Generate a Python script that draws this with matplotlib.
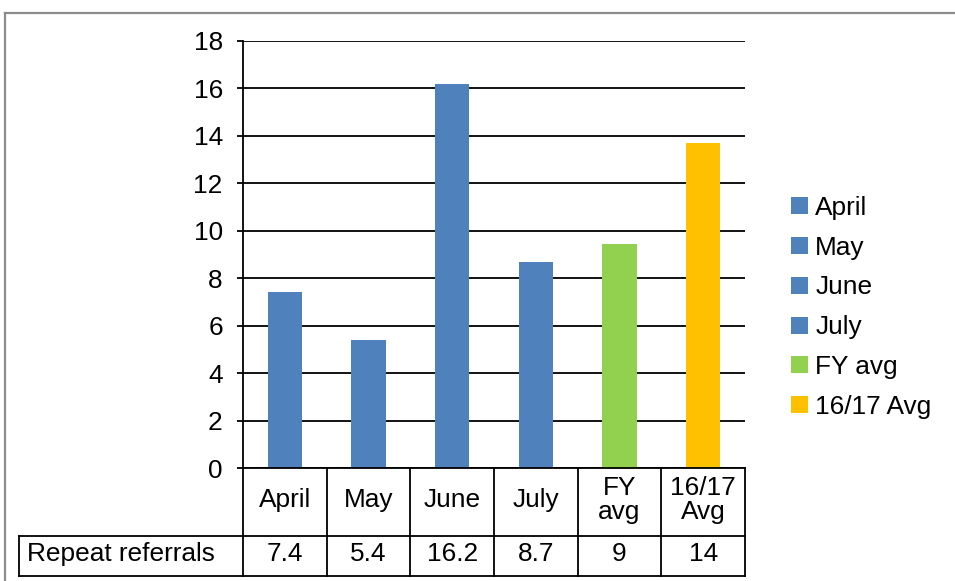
import matplotlib
matplotlib.use("Agg")
import matplotlib.pyplot as plt
from matplotlib.lines import Line2D
from matplotlib.transforms import blended_transform_factory

plt.rcParams['font.family'] = ['Liberation Sans', 'DejaVu Sans']

categories = ["April", "May", "June", "July", "FY avg", "16/17 Avg"]
header_labels = ["April", "May", "June", "July", "FY\navg", "16/17\nAvg"]
values = [7.4, 5.4, 16.2, 8.7, 9.45, 13.7]
table_values = ["7.4", "5.4", "16.2", "8.7", "9", "14"]
row_label = "Repeat referrals"
colors = ["#4F81BD", "#4F81BD", "#4F81BD", "#4F81BD", "#92D050", "#FFC000"]
yticks = [0, 2, 4, 6, 8, 10, 12, 14, 16, 18]

W, H = 955, 581
FS = 18.9
fig = plt.figure(figsize=(W / 100, H / 100), dpi=100)
fig.patch.set_facecolor("white")

def fx(px):
    return px / W

def fy(py):
    return 1 - py / H

ax = fig.add_axes([fx(243), fy(468), fx(745) - fx(243), fy(41) - fy(468)])
ax.set_axisbelow(True)
for i, (c, v, col) in enumerate(zip(categories, values, colors)):
    ax.bar(i, v, width=0.41, color=col, label=c, zorder=3)

ax.set_xlim(-0.5, len(categories) - 0.5)
ax.set_ylim(0, 18)
ax.set_yticks(yticks)
ax.set_yticklabels([str(t) for t in yticks], fontsize=FS)
ax.set_xticks([])
ax.yaxis.grid(True, color="black", linewidth=1.3)
ax.tick_params(axis="y", direction="out", length=4.5, width=1.3, pad=10.0, colors="black")
for s in ["top", "right", "bottom"]:
    ax.spines[s].set_visible(False)
ax.spines["left"].set_linewidth(1.3)
ax.spines["left"].set_color("black")

# Data table
trans = blended_transform_factory(ax.transData, fig.transFigure)
lw = 1.3
y_top, y_mid, y_bot = fy(468), fy(536), fy(576)
n = len(categories)
fig.add_artist(Line2D([-0.5, n - 0.5], [y_top, y_top], transform=trans, color="black", lw=lw))
fig.add_artist(Line2D([fx(19), fx(745)], [y_mid, y_mid], transform=fig.transFigure, color="black", lw=lw))
fig.add_artist(Line2D([fx(19), fx(745)], [y_bot, y_bot], transform=fig.transFigure, color="black", lw=lw))
for k in range(n + 1):
    xk = k - 0.5
    fig.add_artist(Line2D([xk, xk], [y_top, y_bot], transform=trans, color="black", lw=lw))
fig.add_artist(Line2D([fx(19), fx(19)], [y_mid, y_bot], transform=fig.transFigure, color="black", lw=lw))

for i in range(n):
    fig.text(i, fy(500), header_labels[i], transform=trans, ha="center", va="center",
             fontsize=FS, linespacing=1.0)
    fig.text(i, fy(554), table_values[i], transform=trans, ha="center", va="center",
             fontsize=FS)
fig.text(fx(27), fy(554), row_label, ha="left", va="center", fontsize=FS)

# Legend
leg = fig.legend(loc="upper left", bbox_to_anchor=(fx(791), fy(196)), frameon=False,
                 fontsize=FS, handlelength=0.64, handleheight=0.62, handletextpad=0.28,
                 labelspacing=0.6, borderaxespad=0, borderpad=0)

# Outer frame (gray)
fig.add_artist(Line2D([fx(5), 1], [fy(13), fy(13)], transform=fig.transFigure, color="#8c8c8c", lw=1.6))
fig.add_artist(Line2D([fx(5), fx(5)], [fy(13), 0], transform=fig.transFigure, color="#8c8c8c", lw=1.6))

fig.savefig("out.png", dpi=100)
